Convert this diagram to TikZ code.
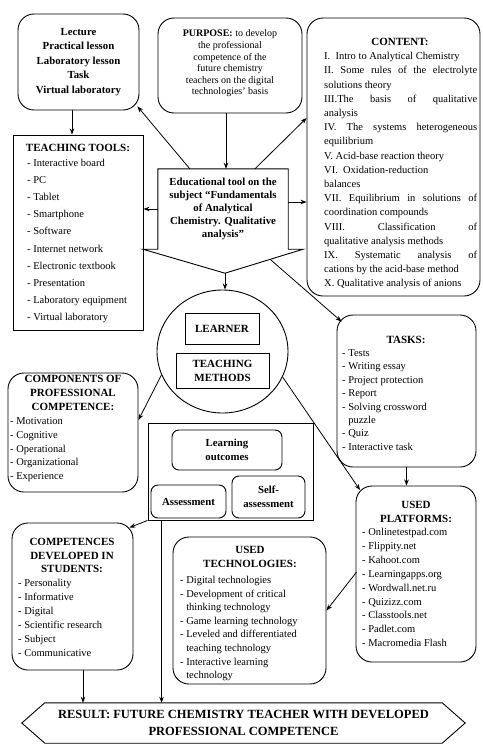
\documentclass[tikz,border=0pt]{standalone}
\usepackage{fontspec}
\setmainfont{Liberation Serif}
\usetikzlibrary{arrows.meta,shapes.geometric,calc}
\begin{document}
\begin{tikzpicture}[x=1pt,y=-1pt,
  rbox/.style={draw, rounded corners=16pt, line width=0.9pt, inner sep=0pt},
  sbox/.style={draw, line width=0.9pt, inner sep=0pt},
  ibox/.style={draw, rounded corners=7pt, line width=0.9pt, inner sep=0pt},
  txt/.style={inner sep=0pt, font=\fontsize{10.5}{13.5}\selectfont},
  btxt/.style={inner sep=0pt, align=center, font=\fontsize{11}{13.5}\selectfont\bfseries},
  arr/.style={-{Stealth[length=6pt,width=4.5pt]}, line width=0.8pt},
  ln/.style={line width=0.9pt}]
\useasboundingbox (0,0) rectangle (482,744);

% Lecture
\node[rbox, minimum width=121pt, minimum height=96pt] (lect) at (78.5,62) {};
\node[btxt, font=\fontsize{10.8}{14.5}\selectfont\bfseries] (lectT) at (78.5,62) {Lecture\\Practical lesson\\Laboratory lesson\\Task\\Virtual laboratory};

% Purpose
\node[rbox, minimum width=144pt, minimum height=95pt] (purp) at (230,65.5) {};
\node[txt, align=center, font=\fontsize{10}{11.6}\selectfont] (purpT) at (230,63.5) {\textbf{PURPOSE:} to develop\\the professional\\competence of the\\future chemistry\\teachers on the digital\\technologies’ basis};

% Content
\node[rbox, minimum width=173pt, minimum height=278pt] (cont) at (393.5,157) {};
\node[btxt, anchor=base] (contH) at (400,45.5) {CONTENT:};
\node[txt, align=left, anchor=base west, font=\fontsize{10.5}{14.2}\selectfont] (contT) at (324,286.9) {I.\ \ Intro to Analytical Chemistry\\
\makebox[153pt][s]{II. Some rules of the electrolyte}\\
solutions theory\\
\makebox[153pt][s]{III.The basis of qualitative}\\
analysis\\
\makebox[153pt][s]{IV. The systems heterogeneous}\\
equilibrium\\
V. Acid-base reaction theory\\
VI.\ \ Oxidation-reduction\\
balances\\
\makebox[153pt][s]{VII. Equilibrium in solutions of}\\
coordination compounds\\
\makebox[153pt][s]{VIII. Classification of}\\
qualitative analysis methods\\
\makebox[153pt][s]{IX. Systematic analysis of}\\
cations by the acid-base method\\
X. Qualitative analysis of anions};

% Teaching tools
\node[sbox, minimum width=130pt, minimum height=195pt] (tools) at (78,232.5) {};
\node[btxt, anchor=base] (toolsH) at (78,151.5) {TEACHING TOOLS:};
\node[txt, align=left, anchor=base west, font=\fontsize{10.5}{17.1}\selectfont] (toolsT) at (27,320.4) {- Interactive board\\- PC\\- Tablet\\- Smartphone\\- Software\\- Internet network\\- Electronic textbook\\- Presentation\\- Laboratory equipment\\- Virtual laboratory};

% Educational tool (pentagon)
\node[inner sep=0pt, minimum width=130pt, minimum height=80pt, align=center, font=\fontsize{10.8}{13}\selectfont\bfseries] (edu) at (223,209) {Educational tool on the\\subject “Fundamentals\\of Analytical\\Chemistry. Qualitative\\analysis”};
\draw[ln] (edu.north west) -- (edu.north east) -- (edu.south east) -- ([shift={(15,0)}]edu.south east) -- ([shift={(2,24)}]edu.south) -- ([shift={(-15,0)}]edu.south west) -- (edu.south west) -- cycle;

% Circle
\node[draw, ellipse, line width=0.9pt, minimum width=131pt, minimum height=123pt, inner sep=0pt] (circ) at (222.5,351.5) {};
\node[sbox, minimum width=74pt, minimum height=31pt, font=\fontsize{11}{13.5}\selectfont\bfseries] (learner) at (222,328.5) {LEARNER};
\node[sbox, minimum width=93pt, minimum height=35pt, align=center, font=\fontsize{11}{14}\selectfont\bfseries] (tmeth) at (222.5,370.5) {TEACHING\\METHODS};

% Tasks
\node[rbox, minimum width=139pt, minimum height=152pt] (tasks) at (406.5,391) {};
\node[btxt, anchor=base] (tasksH) at (406,343.5) {TASKS:};
\node[txt, align=left, anchor=base west, font=\fontsize{10.5}{13.4}\selectfont] (tasksT) at (342,450.3) {- Tests\\- Writing essay\\- Project protection\\- Report\\- Solving crossword\\\phantom{- }puzzle\\- Quiz\\- Interactive task};

% Components
\node[rbox, minimum width=130pt, minimum height=119pt] (comp) at (73,432.5) {};
\node[btxt, anchor=base, font=\fontsize{11}{14}\selectfont\bfseries] (compH) at (73,410.5) {COMPONENTS OF\\PROFESSIONAL\\COMPETENCE:};
\node[txt, align=left, anchor=base west, font=\fontsize{10.5}{13.8}\selectfont] (compT) at (10,479.7) {- Motivation\\- Cognitive\\- Operational\\- Organizational\\- Experience};

% Outcomes frame
\node[sbox, minimum width=165pt, minimum height=97pt] (frame) at (230.5,471.5) {};
\node[ibox, minimum width=110pt, minimum height=40pt, align=center, font=\fontsize{10.8}{14}\selectfont\bfseries] (lout) at (227,450) {Learning\\outcomes};
\node[ibox, minimum width=75pt, minimum height=33pt, font=\fontsize{10.8}{14}\selectfont\bfseries] (assess) at (188.5,501.5) {Assessment};
\node[ibox, minimum width=73pt, minimum height=42pt, align=center, font=\fontsize{10.8}{14}\selectfont\bfseries] (self) at (268.5,497) {Self-\\assessment};

% Platforms
\node[rbox, minimum width=120pt, minimum height=176pt] (plat) at (416,574) {};
\node[btxt, anchor=base] (platH) at (416,522) {USED\\PLATFORMS:};
\node[txt, align=left, anchor=base west, font=\fontsize{10.5}{13.9}\selectfont] (platT) at (362,646.7) {- Onlinetestpad.com\\- Flippity.net\\- Kahoot.com\\- Learningapps.org\\- Wordwall.net.ru\\- Quizizz.com\\- Classtools.net\\- Padlet.com\\- Macromedia Flash};

% Competences
\node[rbox, minimum width=121pt, minimum height=147pt] (compet) at (72.5,596.5) {};
\node[btxt, anchor=base] (competH) at (72,572.5) {COMPETENCES\\DEVELOPED IN\\STUDENTS:};
\node[txt, align=left, anchor=base west, font=\fontsize{10.5}{14}\selectfont] (competT) at (18,656.5) {- Personality\\- Informative\\- Digital\\- Scientific research\\- Subject\\- Communicative};

% Used technologies
\node[rbox, minimum width=153pt, minimum height=147pt] (tech) at (249.5,610.5) {};
\node[btxt, anchor=base] (techH) at (250,567) {USED\\TECHNOLOGIES:};
\node[txt, align=left, anchor=base west, font=\fontsize{10.5}{13.6}\selectfont] (techT) at (180,678.7) {- Digital technologies\\- Development of critical\\\phantom{- }thinking technology\\- Game learning technology\\- Leveled and differentiated\\\phantom{- }teaching technology\\- Interactive learning\\\phantom{- }technology};

% Result
\node[inner sep=0pt, minimum width=397pt, minimum height=40pt, align=center, font=\fontsize{12.5}{16.5}\selectfont\bfseries] (res) at (243.5,723) {RESULT: FUTURE CHEMISTRY TEACHER WITH DEVELOPED\\PROFESSIONAL COMPETENCE};
\draw[ln] ([shift={(-23,0)}]res.west) -- (res.north west) -- (res.north east) -- ([shift={(23,0)}]res.east) -- (res.south east) -- (res.south west) -- cycle;

% Connectors
\draw[arr] ([shift={(-6.5,0)}]lect.south) -- ([shift={(-6,0)}]tools.north);
\draw[arr] ([shift={(32,0)}]edu.north west) -- ([shift={(-2,-4)}]lect.south east);
\draw[arr] ([shift={(-4,0)}]purp.south) -- ([shift={(3,0)}]edu.north);
\draw[arr] ([shift={(32,0)}]edu.north) -- ([shift={(0,-39)}]cont.west);
\draw[arr] (edu.west) -- (edu.west -| tools.east);
\coordinate (eE) at ([shift={(0,-7)}]edu.east);
\draw[arr] (eE) -- (eE -| cont.west);
\coordinate (eP) at ([shift={(2,24)}]edu.south);
\draw[arr] (eP) -- (eP |- circ.north);
\coordinate (eR) at ([shift={(47,10)}]edu.south);
\draw[arr] (eR) -- ([shift={(5,7)}]tasks.north west);
\draw[arr] (circ.201) -- ([shift={(0,-12.5)}]comp.east);
\draw[arr] (circ.337) -- ([shift={(4.5,4.5)}]plat.north west);
\draw[arr] (tasks.south) -- (tasks.south |- plat.north);
\draw[arr] ([shift={(1,-2)}]plat.west) -- (tech.east);
\draw[arr] (frame.south west) -- ([shift={(-4,5)}]compet.north east);
\coordinate (f1) at ([shift={(14,0)}]frame.south west);
\draw[arr] (f1) -- (f1 |- res.north);
\coordinate (c1) at ([shift={(10.5,0)}]compet.south);
\draw[arr] (c1) -- (c1 |- res.north);
\end{tikzpicture}
\end{document}
